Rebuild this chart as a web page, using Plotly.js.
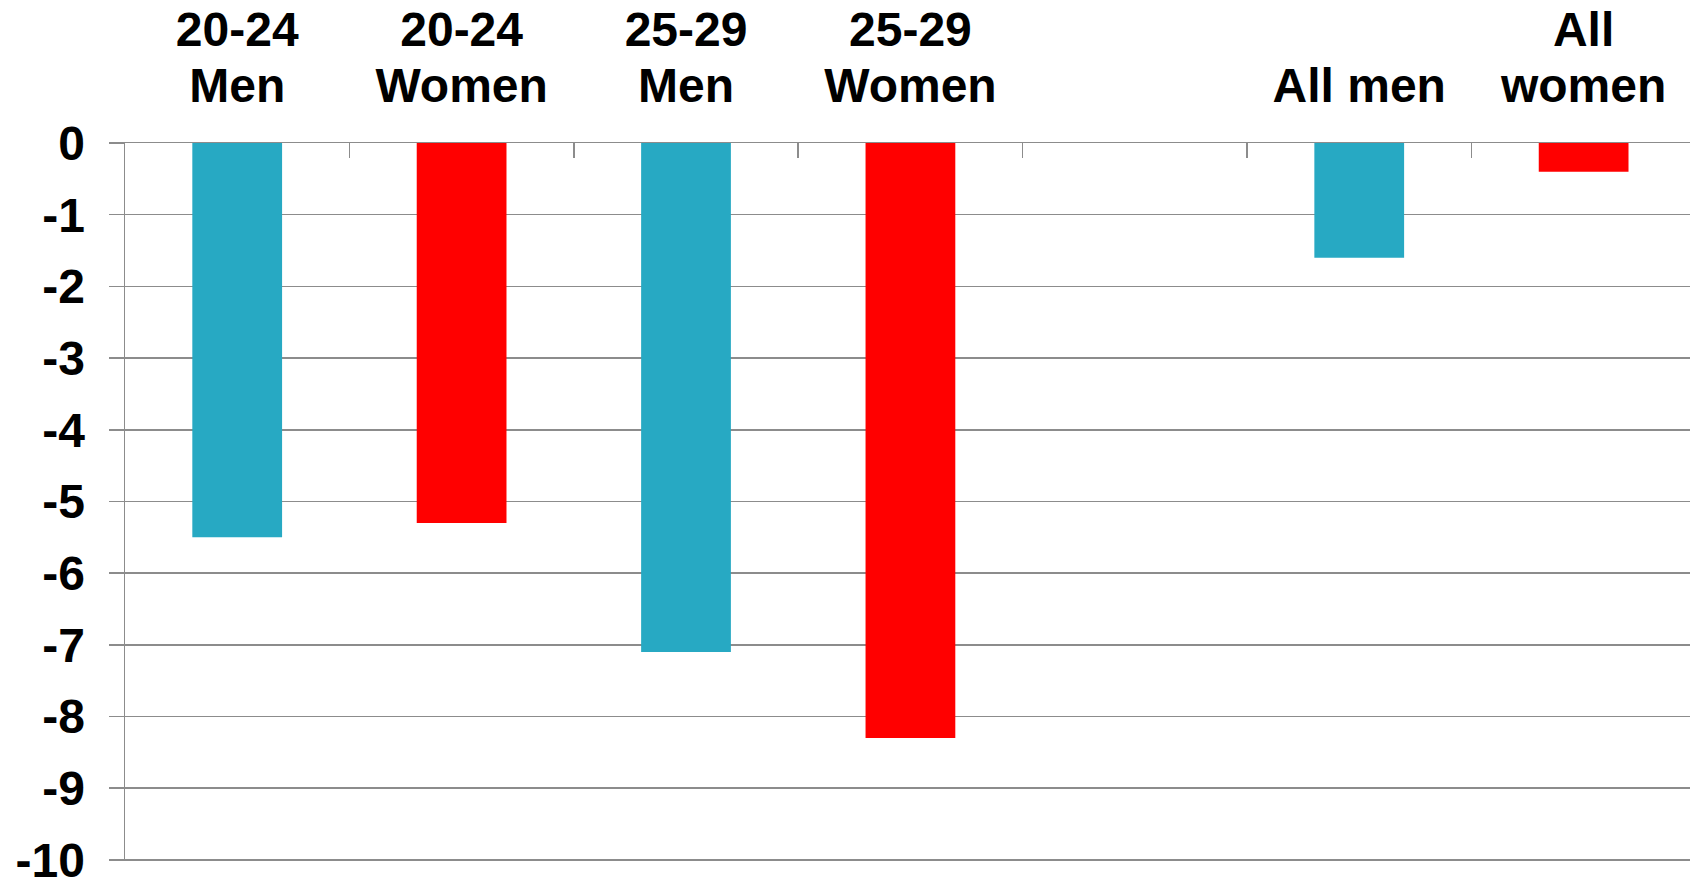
<!DOCTYPE html>
<html>
<head>
<meta charset="utf-8">
<script src="https://cdn.plot.ly/plotly-3.0.1.min.js"></script>
<style>html,body{margin:0;padding:0;background:#fff;}#chart{width:1690px;height:881px;}</style>
</head>
<body>
<div id="chart"></div>
<script>
const categories = ["20-24 Men", "20-24 Women", "25-29 Men", "25-29 Women", " ", "All men", "All women"];
const tickLabels = [["20-24", "Men"], ["20-24", "Women"], ["25-29", "Men"], ["25-29", "Women"], [" "], ["All men"], ["All", "women"]];
const values = [-5.5, -5.3, -7.1, -8.3, null, -1.6, -0.4];
const barColors = ["#27A9C3", "#FF0000", "#27A9C3", "#FF0000", "#FFFFFF", "#27A9C3", "#FF0000"];
const yTicks = [0, -1, -2, -3, -4, -5, -6, -7, -8, -9, -10];

const trace = {
  type: "bar",
  x: categories,
  y: values,
  marker: {color: barColors},
  hoverinfo: "skip"
};

const fontFam = "'Liberation Sans', Arial, sans-serif";
const big = s => '<span style="font-size:48px">' + s + '</span>';
const layout = {
  width: 1690, height: 881,
  margin: {l: 125, r: 0, t: 143, b: 20},
  paper_bgcolor: "#fff", plot_bgcolor: "#fff",
  showlegend: false,
  bargap: 0.6,
  font: {family: fontFam, color: "#000"},
  xaxis: {
    type: "category",
    categoryorder: "array",
    categoryarray: categories,
    range: [-0.5, 6.474],
    tickvals: categories,
    ticktext: tickLabels.map(l => l.map(big).join("<br>")),
    side: "top",
    showline: true, linecolor: "#8c8c8c", linewidth: 1.5,
    ticks: "inside", tickson: "boundaries", ticklen: 15, tickcolor: "#8c8c8c", tickwidth: 1.5,
    showgrid: false,
    tickfont: {family: fontFam, size: 43, color: "#000", weight: "bold"},
    ticklabelstandoff: 22,
    ticklabeloverflow: "allow"
  },
  yaxis: {
    range: [-10.015, 0],
    tickvals: yTicks,
    ticktext: yTicks.map(String),
    showline: true, linecolor: "#8c8c8c", linewidth: 1.5,
    ticks: "outside", ticklen: 15, tickcolor: "#8c8c8c", tickwidth: 1.5,
    showgrid: true, gridcolor: "#8c8c8c", gridwidth: 1.5,
    zeroline: false,
    tickfont: {family: fontFam, size: 48, color: "#000", weight: "bold"},
    ticklabelstandoff: 14,
    ticklabeloverflow: "allow"
  }
};

Plotly.newPlot("chart", [trace], layout, {displayModeBar: false, staticPlot: true});
</script>
</body>
</html>
